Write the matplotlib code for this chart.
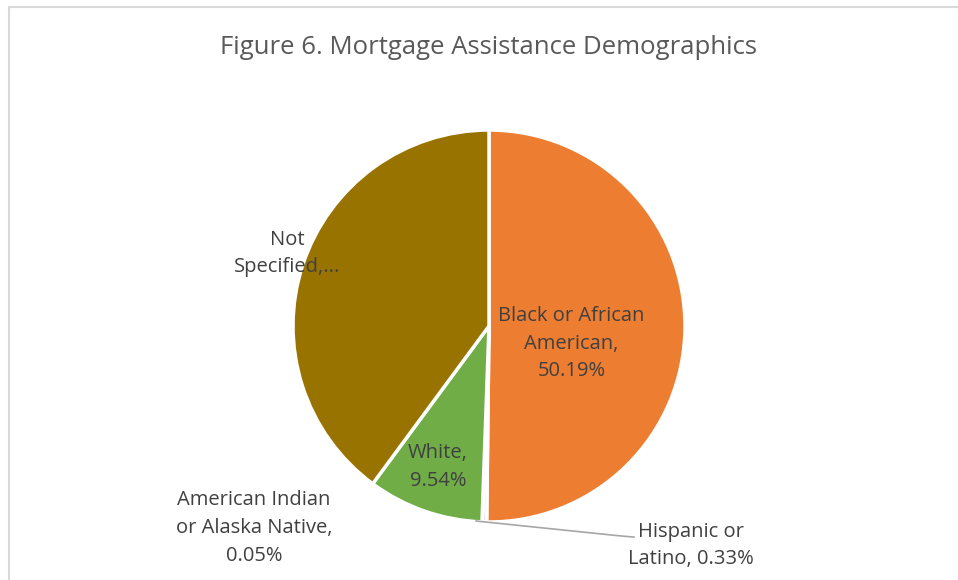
import matplotlib.pyplot as plt
from matplotlib.patches import Rectangle

plt.rcParams['font.family'] = ['Open Sans', 'DejaVu Sans']

# data (clockwise from 12 o'clock)
categories = ['Black or African American', 'Hispanic or Latino',
              'American Indian or Alaska Native', 'White', 'Not Specified']
shares = [50.19, 0.33, 0.05, 9.54, 39.89]
colors = ['#ED7D31', '#A5A5A5', '#FFC000', '#70AD47', '#997300']
label_texts = ['Black or African\nAmerican,\n50.19%',
               'Hispanic or\nLatino, 0.33%',
               'American Indian\nor Alaska Native,\n0.05%',
               'White,\n9.54%',
               'Not\nSpecified,...']
# label centres in pie units (radius = 1)
label_pos = [(0.42, -0.09), (1.03, -1.12), (-1.20, -1.03), (-0.26, -0.72), (-1.03, 0.37)]

fig = plt.figure(figsize=(9.58, 5.80), dpi=100)
fig.patches.append(Rectangle((9 / 958, -0.1), 1.2, 1.1 - 7 / 580, transform=fig.transFigure,
                             fill=False, edgecolor='#D9D9D9', linewidth=1.5))

ax = fig.add_axes([(489 - 196) / 958, (580 - 326 - 196) / 580, 392 / 958, 392 / 580])
ax.pie(shares, colors=colors, startangle=90, counterclock=False, radius=1,
       wedgeprops=dict(edgecolor='white', linewidth=2.5))
ax.set_xlim(-1, 1)
ax.set_ylim(-1, 1)
ax.set_aspect('equal')

for txt, (x, y) in zip(label_texts, label_pos):
    ax.text(x, y, txt, ha='center', va='center', fontsize=14.5, color='#404040',
            linespacing=1.52, clip_on=False)

# leader line for the Hispanic label
ax.plot([-0.066, 0.66, 0.74], [-0.995, -1.07, -1.077], color='#A6A6A6', linewidth=1.2,
        clip_on=False)

fig.text(489 / 958, 1 - 47 / 580, 'Figure 6. Mortgage Assistance Demographics',
         ha='center', va='center', fontsize=18.5, color='#595959')

fig.savefig('out.png', dpi=100)
